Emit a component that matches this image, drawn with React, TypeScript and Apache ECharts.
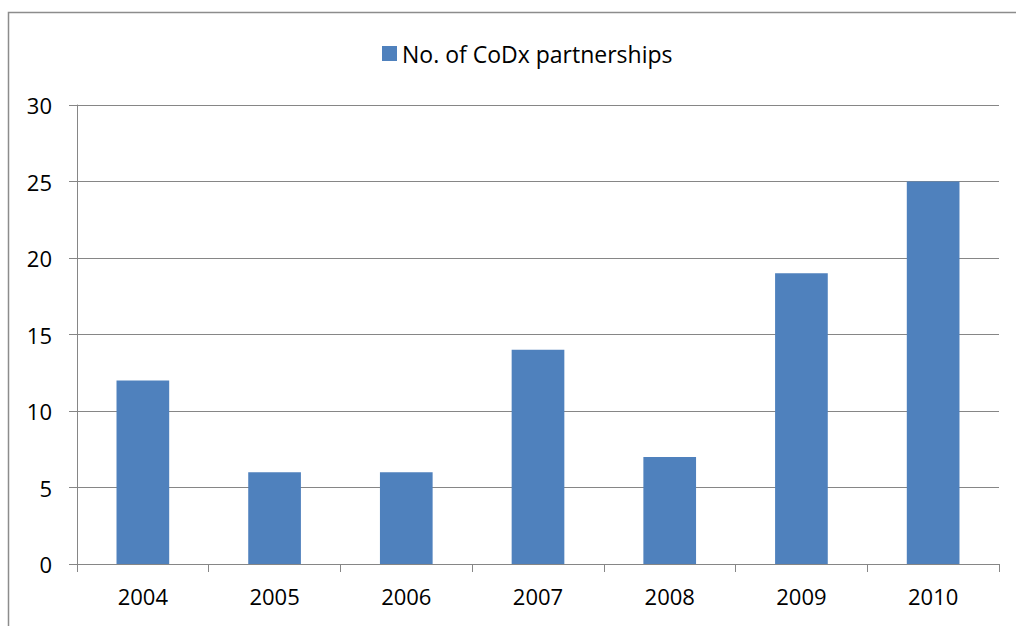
import React, { useEffect, useRef } from "react";
import * as echarts from "echarts";

const categories = ["2004", "2005", "2006", "2007", "2008", "2009", "2010"];
const partnerships = [12, 6, 6, 14, 7, 19, 25];
const seriesName = "No. of CoDx partnerships";

export default function App() {
  const ref = useRef<HTMLDivElement>(null);
  useEffect(() => {
    const chart = echarts.init(ref.current!, null, { renderer: "svg" });
    const font = "'Open Sans', 'Liberation Sans', sans-serif";
    chart.setOption({
      animation: false,
      textStyle: { fontFamily: font },
      graphic: [
        {
          type: "rect",
          shape: { x: 8.5, y: 12.5, width: 1200, height: 800 },
          style: { fill: "none", stroke: "#8c8c8c", lineWidth: 1.5 },
          silent: true,
        },
      ],
      legend: {
        top: 37,
        left: 377,
        itemWidth: 15,
        itemHeight: 15,
        itemGap: 6,
        icon: "rect",
        textStyle: { fontSize: 23, color: "#000", fontFamily: font },
        data: [seriesName],
      },
      grid: { left: 77, top: 105, right: 17, bottom: 62, containLabel: false },
      xAxis: {
        type: "category",
        data: categories,
        axisLine: { lineStyle: { color: "#868686", width: 1 } },
        axisTick: { show: true, length: 8, lineStyle: { color: "#868686" } },
        axisLabel: { fontSize: 22, color: "#000", margin: 21, fontFamily: font },
      },
      yAxis: {
        type: "value",
        min: 0,
        max: 30,
        interval: 5,
        axisLine: { show: true, lineStyle: { color: "#868686", width: 1 } },
        axisTick: { show: true, length: 8, lineStyle: { color: "#868686" } },
        axisLabel: { fontSize: 22, color: "#000", margin: 25, fontFamily: font },
        splitLine: { lineStyle: { color: "#868686", width: 1 } },
      },
      series: [
        {
          name: seriesName,
          type: "bar",
          data: partnerships,
          barWidth: "40%",
          itemStyle: { color: "#4F81BD" },
        },
      ],
    });
    return () => chart.dispose();
  }, []);
  return (
    <div
      ref={ref}
      style={{ position: "absolute", left: 0, top: 0, width: 1016, height: 626, background: "#fff" }}
    />
  );
}
